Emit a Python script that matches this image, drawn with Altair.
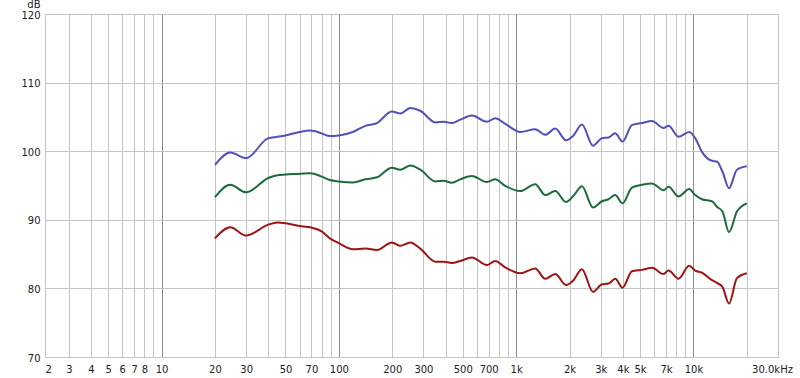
import altair as alt
import pandas as pd

freqs = [20, 24.4, 30, 40, 45, 50, 60, 69, 80, 89,
         100, 120, 141, 164, 199, 222, 253, 288, 350, 389,
         434, 484, 563, 684, 762, 868, 1055, 1281, 1459, 1662,
         1910, 2107, 2350, 2712, 3048, 3320, 3622, 3983, 4499, 5122,
         5834, 6782, 7237, 8241, 9470, 10235, 11170, 12720, 13570, 14590,
         15880, 17600, 20000]

blue = [98.0, 99.8, 99.0, 101.9, 102.1, 102.3, 102.8, 103.0, 102.6, 102.2,
        102.3, 102.8, 103.7, 104.1, 105.8, 105.5, 106.3, 105.9, 104.2, 104.3,
        104.1, 104.6, 105.2, 104.3, 104.8, 104.0, 102.8, 103.2, 102.4, 103.3,
        101.6, 102.3, 103.9, 100.8, 101.9, 102.0, 102.6, 101.4, 103.8, 104.1,
        104.4, 103.4, 103.7, 102.1, 102.8, 101.9, 99.9, 98.6, 98.5, 97.0,
        94.6, 97.3, 97.8]

green = [93.3, 95.1, 94.0, 96.1, 96.5, 96.6, 96.7, 96.8, 96.3, 95.8,
         95.6, 95.45, 95.9, 96.2, 97.6, 97.3, 97.9, 97.3, 95.6, 95.7,
         95.4, 95.9, 96.4, 95.5, 95.9, 94.95, 94.2, 95.2, 93.6, 94.2,
         92.6, 93.5, 94.9, 91.8, 92.7, 93.0, 93.6, 92.4, 94.7, 95.1,
         95.3, 94.3, 94.8, 93.4, 94.5, 93.6, 93.0, 92.7, 91.9, 91.2,
         88.2, 91.2, 92.4]

red = [87.3, 88.9, 87.7, 89.3, 89.6, 89.5, 89.1, 88.9, 88.3, 87.3,
       86.6, 85.7, 85.8, 85.6, 86.7, 86.2, 86.7, 85.8, 83.9, 83.9,
       83.7, 84.0, 84.5, 83.4, 84.0, 83.05, 82.2, 82.9, 81.4, 82.1,
       80.5, 81.2, 82.8, 79.5, 80.6, 80.7, 81.4, 80.1, 82.5, 82.7,
       83.0, 82.1, 82.6, 81.4, 83.3, 82.6, 82.3, 81.2, 80.8, 80.2,
       77.8, 81.5, 82.2]

series_names = ["blue", "green", "red"]
series_colors = ["#5050ba", "#1c6b3c", "#9e1313"]

x_ticks = [2.2, 3, 4, 5, 6, 7, 8, 9,
           10, 20, 30, 40, 50, 60, 70, 80, 90,
           100, 200, 300, 400, 500, 600, 700, 800, 900,
           1000, 2000, 3000, 4000, 5000, 6000, 7000, 8000, 9000,
           10000, 20000, 30000]
x_labels = ["2", "3", "4", "5", "6", "7", "8", "",
            "10", "20", "30", "", "50", "", "70", "", "",
            "100", "200", "300", "", "500", "", "700", "", "",
            "1k", "2k", "3k", "4k", "5k", "", "7k", "", "",
            "10k", "", "30.0kHz"]
decades = [10, 100, 1000, 10000]
y_ticks = [70, 80, 90, 100, 110, 120]

rows = []
for name, vals in zip(series_names, [blue, green, red]):
    for f, v in zip(freqs, vals):
        rows.append({"f": f, "db": v, "s": name})
df = pd.DataFrame(rows)

label_expr = " : ".join(
    f"datum.value == {v} ? '{l}'" for v, l in zip(x_ticks, x_labels)
) + " : ''"
decade_test = " || ".join(f"datum.value == {d}" for d in decades)

FONT = "DejaVu Sans"
FS = 10

chart = alt.Chart(df).mark_line(
    interpolate="monotone", strokeWidth=2, clip=True
).encode(
    x=alt.X("f:Q",
            scale=alt.Scale(type="log", domain=[2.2, 30000], nice=False),
            axis=alt.Axis(values=x_ticks, labelExpr=label_expr, title=None,
                          domain=False, ticks=False, labelPadding=7,
                          labelOverlap=False,
                          labelFont=FONT, labelFontSize=FS, labelColor="#222",
                          labelAlign={"condition": {"test": "datum.value < 2.5", "value": "left"},
                                      "value": "center"},
                          labelOffset={"condition": {"test": "datum.value > 25000", "value": -6},
                                       "value": 0},
                          gridColor={"condition": {"test": decade_test, "value": "#8a8a8a"},
                                     "value": "#c4c4c4"},
                          gridWidth=1)),
    y=alt.Y("db:Q",
            scale=alt.Scale(domain=[70, 120], nice=False),
            axis=alt.Axis(values=y_ticks, title="dB", titleAngle=0,
                          titleX=-5, titleY=-7, titleAlign="right",
                          titleBaseline="alphabetic",
                          titleFont=FONT, titleFontSize=FS, titleFontWeight="normal",
                          titleColor="#222",
                          domain=False, ticks=False, labelPadding=5,
                          labelFont=FONT, labelFontSize=FS, labelColor="#222",
                          labelOffset=1,
                          gridColor="#c4c4c4", gridWidth=1)),
    color=alt.Color("s:N", scale=alt.Scale(domain=series_names, range=series_colors),
                    legend=None),
    detail="s:N",
).properties(
    width=733, height=343,
    padding={"left": 45, "top": 14, "right": 22, "bottom": 21},
    autosize="none",
).configure_view(
    stroke="#bdbdbd", strokeWidth=3
).configure(background="white")

chart.save("out.html", embed_options={"renderer": "svg", "actions": False})
